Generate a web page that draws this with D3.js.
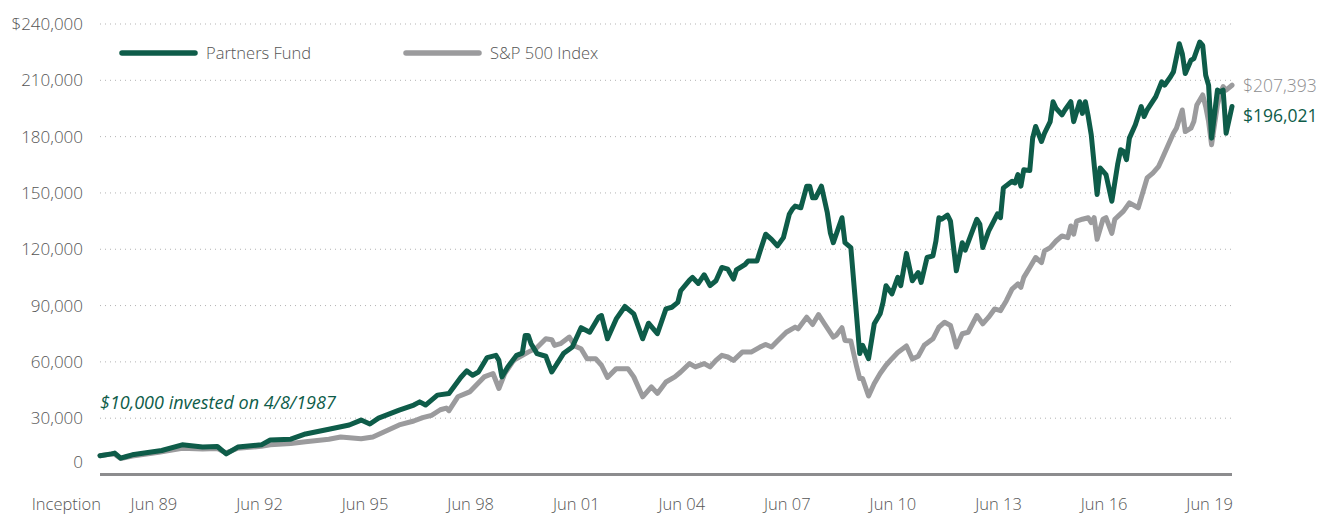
<!DOCTYPE html>
<html>
<head>
<meta charset="utf-8">
<script src="https://cdn.jsdelivr.net/npm/d3@7"></script>
<style>
  body { margin: 0; background: #fff; }
  svg { display: block; font-family: "Open Sans", sans-serif; }
</style>
</head>
<body>
<svg id="chart" width="1319" height="515"></svg>
<script>
// Growth of $10,000 - monthly values
const fundDates = ["1987-04","1987-08","1987-09","1987-11","1988-01","1988-03","1989-01","1989-08","1990-03","1990-08","1990-11","1991-03","1991-11","1992-02","1992-09","1993-02","1993-10","1994-05","1994-09","1994-12","1995-03","1995-10","1996-03","1996-05","1996-07","1996-11","1997-03","1997-07","1997-09","1997-11","1998-01","1998-04","1998-07","1998-08","1998-09","1998-11","1999-02","1999-04","1999-05","1999-06","1999-07","1999-09","1999-12","2000-02","2000-06","2000-09","2000-12","2001-03","2001-06","2001-07","2001-09","2001-12","2002-03","2002-06","2002-09","2002-11","2003-02","2003-05","2003-07","2003-09","2003-10","2004-01","2004-02","2004-04","2004-06","2004-08","2004-10","2004-12","2005-02","2005-04","2005-05","2005-08","2005-09","2005-12","2006-01","2006-03","2006-05","2006-07","2006-09","2006-11","2006-12","2007-01","2007-03","2007-05","2007-06","2007-07","2007-08","2007-10","2007-12","2008-01","2008-02","2008-05","2008-06","2008-08","2008-10","2008-11","2008-12","2009-02","2009-04","2009-06","2009-07","2009-08","2009-10","2009-12","2010-01","2010-03","2010-05","2010-07","2010-08","2010-10","2010-12","2011-01","2011-02","2011-03","2011-05","2011-06","2011-08","2011-10","2011-11","2012-03","2012-04","2012-05","2012-07","2012-10","2012-11","2012-12","2013-03","2013-04","2013-05","2013-06","2013-07","2013-09","2013-10","2013-11","2014-01","2014-02","2014-04","2014-05","2014-06","2014-08","2014-09","2014-11","2014-12","2015-02","2015-03","2015-04","2015-05","2015-06","2015-08","2015-09","2015-11","2016-01","2016-03","2016-04","2016-05","2016-06","2016-07","2016-09","2016-11","2016-12","2017-01","2017-04","2017-06","2017-07","2017-09","2017-10","2017-12","2018-01","2018-02","2018-04","2018-05","2018-07","2018-08","2018-09","2018-10","2018-11","2019-01","2019-02","2019-03","2019-04","2019-06"];
const fundValues = [10000,11000,11400,8700,9600,10500,12800,15800,14600,14900,11000,14600,15800,18400,18800,21600,24100,26400,29000,26900,30000,34300,37000,38700,37000,42300,43200,51700,55200,52900,54600,62300,63500,60800,52000,57300,63500,64700,74100,74100,69700,64400,63000,54600,64400,67900,78200,75800,83800,84700,72300,82900,89500,85600,72300,80600,75000,88200,89100,91700,97900,103600,105000,101800,106400,100600,103200,110300,109400,104100,109000,112000,113800,113800,118800,128000,125300,121800,126200,138600,141200,143000,142100,153600,153600,147400,147400,153600,139400,128800,123500,136800,123500,120900,83800,64400,68800,61700,80300,85600,91700,100600,96200,105000,100600,117800,103200,107600,102300,115600,116500,124400,136800,136000,138200,135000,108500,123500,119500,136000,133300,120900,129700,138900,136800,152700,156200,155300,159800,153600,162400,161900,179200,185400,177400,181800,188000,198600,195100,191600,194200,198600,188000,198600,192400,198600,190700,181000,149200,163300,159800,145600,165100,173000,172100,167700,179200,186300,196000,190700,194200,201300,209200,207400,211900,214500,229500,224200,213600,220700,221600,230400,228600,212700,207400,179200,204800,203900,204800,181800,196021];

const indexDates = ["1987-04","1987-08","1987-09","1987-11","1988-03","1988-12","1989-08","1990-03","1990-08","1990-11","1991-03","1991-11","1992-02","1992-09","1993-02","1993-10","1994-02","1994-09","1995-01","1995-10","1996-03","1996-06","1996-09","1996-12","1997-02","1997-03","1997-06","1997-10","1998-03","1998-06","1998-08","1998-10","1999-01","1999-06","1999-09","1999-12","2000-02","2000-03","2000-05","2000-08","2000-10","2000-12","2001-02","2001-05","2001-07","2001-09","2001-12","2002-04","2002-06","2002-09","2002-12","2003-02","2003-05","2003-08","2003-10","2004-01","2004-03","2004-06","2004-08","2004-10","2004-12","2005-02","2005-04","2005-07","2005-10","2006-01","2006-03","2006-05","2006-07","2006-10","2007-01","2007-02","2007-05","2007-07","2007-09","2007-11","2008-02","2008-03","2008-05","2008-06","2008-08","2008-10","2008-11","2008-12","2009-02","2009-04","2009-06","2009-08","2009-10","2009-12","2010-03","2010-05","2010-07","2010-09","2010-12","2011-02","2011-04","2011-06","2011-07","2011-08","2011-10","2011-12","2012-03","2012-05","2012-07","2012-09","2012-11","2013-01","2013-03","2013-05","2013-06","2013-07","2013-09","2013-11","2014-01","2014-02","2014-04","2014-06","2014-08","2014-10","2014-11","2014-12","2015-01","2015-03","2015-05","2015-06","2015-07","2015-08","2015-10","2015-11","2016-01","2016-02","2016-05","2016-07","2016-10","2016-11","2017-01","2017-03","2017-05","2017-06","2017-08","2017-10","2017-11","2018-01","2018-02","2018-04","2018-05","2018-06","2018-08","2018-09","2018-10","2018-11","2019-01","2019-02","2019-03","2019-04","2019-06"];
const indexValues = [10000,11000,10800,8500,9800,11800,14000,13600,13800,11500,14000,15000,15800,16500,17500,18800,20000,19000,20000,26400,28500,30300,31500,34500,35400,34000,41400,44000,52000,53800,45800,53800,60800,65200,67600,72300,71800,68800,69700,73200,68300,67000,61700,61700,58200,51700,56400,56400,52000,41400,46700,43200,49300,52000,54600,59100,57300,59100,57300,60800,63500,62600,60800,65200,65200,67900,69300,67900,71100,75800,78500,77600,83800,79900,85200,80300,73200,74100,78200,71400,71100,57300,51100,51100,41800,48500,53800,58200,61700,65000,68500,61500,63000,68800,72300,78500,81100,79400,74100,67900,75000,75800,84700,80300,83800,88200,87300,92600,98800,101500,99700,105000,110300,115600,112900,119100,120900,124400,127100,126200,132400,128000,135000,136000,136800,134200,136800,125300,136000,136800,128500,136000,140300,144700,142100,147400,158000,160600,164200,167700,174800,181800,184500,194200,182700,184500,188000,196900,202200,196000,188000,175700,196900,203000,206600,204800,207393];

const yTicks = [0, 30000, 60000, 90000, 120000, 150000, 180000, 210000, 240000];
const xTickDates = ["1987-04","1989-06","1992-06","1995-06","1998-06","2001-06","2004-06","2007-06","2010-06","2013-06","2016-06","2019-06"];
const xTickLabels = ["Inception","Jun 89","Jun 92","Jun 95","Jun 98","Jun 01","Jun 04","Jun 07","Jun 10","Jun 13","Jun 16","Jun 19"];

const seriesNames = ["Partners Fund", "S&P 500 Index"];
const green = "#0e5c49";
const grey = "#9b9b9d";
const textGrey = "#555555";

const parseMonth = d3.timeParse("%Y-%m");
const svg = d3.select("#chart");

const x = d3.scaleTime()
  .domain([parseMonth("1987-04"), parseMonth("2019-06")])
  .range([100, 1232]);
const y = d3.scaleLinear()
  .domain([0, 240000])
  .range([474.5, 24]);

const fund = fundDates.map((d, i) => ({ date: parseMonth(d), value: fundValues[i] }));
const index = indexDates.map((d, i) => ({ date: parseMonth(d), value: indexValues[i] }));

// dotted gridlines
svg.append("g")
  .selectAll("line")
  .data(yTicks.filter((d) => d > 0))
  .enter()
  .append("line")
  .attr("x1", x.range()[0])
  .attr("x2", x.range()[1])
  .attr("y1", (d) => y(d))
  .attr("y2", (d) => y(d))
  .attr("stroke", "#b3b3b3")
  .attr("stroke-width", 1)
  .attr("stroke-dasharray", "1,4");

// y labels
svg.append("g")
  .selectAll("text")
  .data(yTicks)
  .enter()
  .append("text")
  .attr("x", 83)
  .attr("y", (d) => (d === 0 ? y(d) - 12 : y(d)))
  .attr("dy", "0.35em")
  .attr("text-anchor", "end")
  .attr("font-size", 17)
  .attr("font-weight", 300)
  .attr("fill", textGrey)
  .text((d) => (d === 240000 ? "$" : "") + d3.format(",")(d));

// x labels (right aligned on the date)
svg.append("g")
  .selectAll("text")
  .data(xTickDates)
  .enter()
  .append("text")
  .attr("x", (d) => x(parseMonth(d)) + 1)
  .attr("y", 510)
  .attr("text-anchor", "end")
  .attr("font-size", 16.5)
  .attr("font-weight", 300)
  .attr("fill", textGrey)
  .text((d, i) => xTickLabels[i]);

// lines
const line = d3.line()
  .x((d) => x(d.date))
  .y((d) => y(d.value));

svg.append("path")
  .datum(index)
  .attr("fill", "none")
  .attr("stroke", grey)
  .attr("stroke-width", 5)
  .attr("stroke-linejoin", "round")
  .attr("stroke-linecap", "round")
  .attr("d", line);

svg.append("path")
  .datum(fund)
  .attr("fill", "none")
  .attr("stroke", green)
  .attr("stroke-width", 5)
  .attr("stroke-linejoin", "round")
  .attr("stroke-linecap", "round")
  .attr("d", line);

// baseline
svg.append("line")
  .attr("x1", x.range()[0])
  .attr("x2", x.range()[1])
  .attr("y1", y(0))
  .attr("y2", y(0))
  .attr("stroke", "#8c8c8e")
  .attr("stroke-width", 3.2);

// legend
const legend = svg.append("g");
[[122, green], [406, grey]].forEach(([lx, col], i) => {
  legend.append("line")
    .attr("x1", lx).attr("x2", lx + 73)
    .attr("y1", 53).attr("y2", 53)
    .attr("stroke", col)
    .attr("stroke-width", 5.5)
    .attr("stroke-linecap", "round");
  legend.append("text")
    .attr("x", lx + 84)
    .attr("y", 53)
    .attr("dy", "0.35em")
    .attr("font-size", 16.5)
    .attr("font-weight", 300)
    .attr("fill", textGrey)
    .text(seriesNames[i]);
});

// annotation
svg.append("text")
  .attr("x", 100)
  .attr("y", 403)
  .attr("dy", "0.35em")
  .attr("font-size", 18)
  .attr("font-style", "italic")
  .attr("fill", green)
  .text("$10,000 invested on 4/8/1987");

// end values
const lastIndex = index[index.length - 1];
const lastFund = fund[fund.length - 1];
const indexLabelY = y(lastIndex.value) + 1;
const fundLabelY = Math.max(y(lastFund.value), indexLabelY + 30);
svg.append("text")
  .attr("x", x(lastIndex.date) + 11)
  .attr("y", indexLabelY)
  .attr("dy", "0.35em")
  .attr("font-size", 17.5)
  .attr("font-weight", 300)
  .attr("fill", "#8e8e90")
  .text("$" + d3.format(",")(lastIndex.value));
svg.append("text")
  .attr("x", x(lastFund.date) + 11)
  .attr("y", fundLabelY)
  .attr("dy", "0.35em")
  .attr("font-size", 17.5)
  .attr("fill", green)
  .text("$" + d3.format(",")(lastFund.value));
</script>
</body>
</html>
